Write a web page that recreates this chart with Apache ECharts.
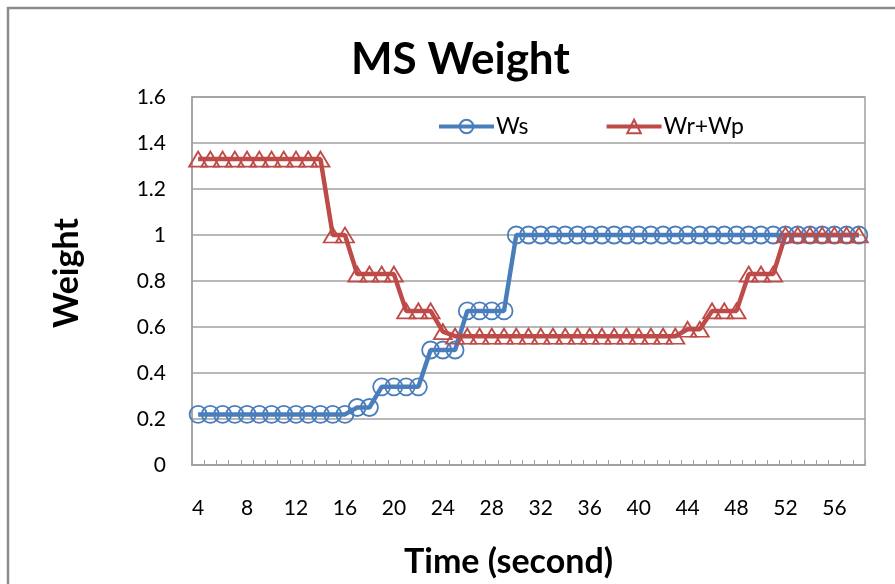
<!DOCTYPE html>
<html>
<head>
<meta charset="utf-8">
<script src="https://cdn.jsdelivr.net/npm/echarts@6/dist/echarts.min.js"></script>
<style>
html,body{margin:0;padding:0;background:#fff;}
#chart{width:895px;height:584px;}
</style>
</head>
<body>
<div id="chart"></div>
<script>
var timeSeconds = [4,5,6,7,8,9,10,11,12,13,14,15,16,17,18,19,20,21,22,23,24,25,26,27,28,29,30,31,32,33,34,35,36,37,38,39,40,41,42,43,44,45,46,47,48,49,50,51,52,53,54,55,56,57,58];
var wsValues = [0.22,0.22,0.22,0.22,0.22,0.22,0.22,0.22,0.22,0.22,0.22,0.22,0.22,
  0.25,0.25,
  0.34,0.34,0.34,0.34,
  0.5,0.5,0.5,
  0.67,0.67,0.67,0.67,
  1,1,1,1,1,1,1,1,1,1,1,1,1,1,1,1,1,1,1,1,1,1,1,1,1,1,1,1,1];
var wrWpValues = [1.33,1.33,1.33,1.33,1.33,1.33,1.33,1.33,1.33,1.33,1.33,
  1,1,
  0.83,0.83,0.83,0.83,
  0.67,0.67,0.67,
  0.58,
  0.56,0.56,0.56,0.56,0.56,0.56,0.56,0.56,0.56,0.56,0.56,0.56,0.56,0.56,0.56,0.56,0.56,0.56,0.56,
  0.59,0.59,
  0.67,0.67,0.67,
  0.83,0.83,0.83,
  1,1,1,1,1,1,1];
var seriesNames = ['Ws', 'Wr+Wp'];
var yTicks = {min: 0, max: 1.6, interval: 0.2};

var FONT = 'Lato';
var BLUE = '#4a7ebb';
var RED = '#be4b48';
var chart = echarts.init(document.getElementById('chart'), null, {renderer: 'canvas'});
chart.setOption({
  animation: false,
  backgroundColor: '#fff',
  graphic: [{
    type: 'rect',
    shape: {x: 8, y: 8, width: 1000, height: 1000},
    style: {fill: 'none', stroke: '#8c8c8c', lineWidth: 2.5},
    silent: true, z: -10
  }],
  title: {
    text: 'MS Weight',
    left: 346,
    top: 33,
    textStyle: {fontFamily: FONT, fontWeight: 'bold', fontSize: 44, color: '#000'}
  },
  legend: {
    left: 432,
    top: 110,
    itemWidth: 55,
    itemHeight: 17,
    itemGap: 76,
    textStyle: {fontFamily: FONT, fontSize: 23, color: '#000', padding: [0, 0, 0, -3]},
    data: [
      {name: seriesNames[0], lineStyle: {width: 4, color: BLUE}},
      {name: seriesNames[1], lineStyle: {width: 4, color: RED}}
    ]
  },
  grid: {
    left: 192, right: 30, top: 97, bottom: 119,
    show: true, borderColor: '#a0a0a0', borderWidth: 1.5, backgroundColor: 'transparent'
  },
  xAxis: {
    type: 'category',
    data: timeSeconds,
    boundaryGap: true,
    name: 'Time (second)',
    nameLocation: 'middle',
    nameGap: 80,
    nameTextStyle: {fontFamily: FONT, fontWeight: 'bold', fontSize: 34, color: '#000', padding: [0, 40, 0, 0]},
    axisLine: {lineStyle: {color: '#a0a0a0', width: 1.5}},
    axisTick: {show: true, inside: true, length: 5, interval: 0, lineStyle: {color: '#a0a0a0', width: 1}},
    axisLabel: {interval: 3, margin: 33, fontFamily: FONT, fontSize: 21, color: '#000'},
    splitLine: {show: false}
  },
  yAxis: {
    type: 'value',
    min: yTicks.min, max: yTicks.max, interval: yTicks.interval,
    name: 'Weight',
    nameLocation: 'middle',
    nameRotate: 90,
    nameGap: 108,
    nameTextStyle: {fontFamily: FONT, fontWeight: 'bold', fontSize: 34, color: '#000', padding: [0, 0, 0, 16]},
    axisLine: {show: true, lineStyle: {color: '#a0a0a0', width: 1.5}},
    axisTick: {show: false},
    axisLabel: {margin: 26, fontFamily: FONT, fontSize: 21, color: '#000'},
    splitLine: {show: true, lineStyle: {color: '#a0a0a0', width: 1.5}}
  },
  series: [{
    name: seriesNames[0],
    type: 'line',
    data: wsValues,
    symbol: 'circle',
    symbolSize: 17,
    showAllSymbol: true,
    lineStyle: {color: BLUE, width: 4.5},
    itemStyle: {color: 'rgba(255,255,255,0)', borderColor: BLUE, borderWidth: 1.8}
  }, {
    name: seriesNames[1],
    type: 'line',
    data: wrWpValues,
    symbol: 'triangle',
    symbolSize: [18, 15],
    showAllSymbol: true,
    lineStyle: {color: RED, width: 4.5},
    itemStyle: {color: 'rgba(255,255,255,0)', borderColor: RED, borderWidth: 1.8}
  }]
});
</script>
</body>
</html>
